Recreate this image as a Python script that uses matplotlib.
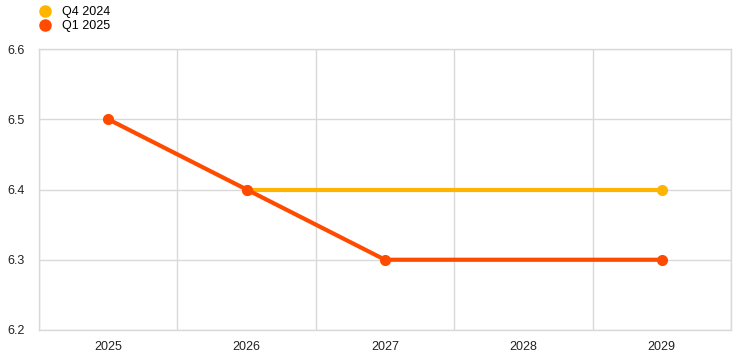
import matplotlib
matplotlib.use("Agg")
import matplotlib.pyplot as plt
import numpy as np

plt.rcParams['font.family'] = ['Liberation Sans', 'DejaVu Sans']

years = [2025, 2026, 2027, 2028, 2029]
q4_2024 = [np.nan, 6.4, 6.4, 6.4, 6.4]
q1_2025 = [6.5, 6.4, 6.3, 6.3, 6.3]
yticks = [6.2, 6.3, 6.4, 6.5, 6.6]

c_q4 = '#FFB400'
c_q1 = '#FF4B00'

fig = plt.figure(figsize=(7.44, 3.57), dpi=100)
ax = fig.add_axes([39/744, 1 - 330/357, (731-39)/744, (330-49)/357])

x = np.arange(len(years))
ax.plot(x, q4_2024, color=c_q4, lw=3, marker='o', ms=7, markevery=[1, 4], label='Q4 2024', zorder=3)
ax.plot(x, q1_2025, color=c_q1, lw=3, marker='o', ms=7, markevery=[0, 1, 2, 4], label='Q1 2025', zorder=4)

ax.set_xlim(-0.5, len(years) - 0.5)
ax.set_ylim(6.2, 6.6)
ax.set_yticks(yticks)
ax.set_yticklabels([f'{v:.1f}' for v in yticks])
ax.set_xticks(x)
ax.set_xticklabels([str(y) for y in years])
ax.set_xticks(np.arange(-0.5, len(years)), minor=True)
ax.grid(True, which='minor', axis='x', color='#d9d9d9', lw=1)
ax.grid(True, which='major', axis='y', color='#d9d9d9', lw=1)
ax.grid(False, which='major', axis='x')
ax.tick_params(axis='both', which='both', length=0, labelsize=9, colors='#222222')
ax.tick_params(axis='x', pad=8)
ax.tick_params(axis='y', pad=10)
for s in ax.spines.values():
    s.set_color('#d9d9d9')
    s.set_linewidth(1)

from matplotlib.lines import Line2D
handles = [Line2D([], [], color=c_q4, marker='o', ls='none', ms=8),
           Line2D([], [], color=c_q1, marker='o', ls='none', ms=8)]
fig.legend(handles, ['Q4 2024', 'Q1 2025'], loc='upper left', bbox_to_anchor=(31/744, 1.0),
           frameon=False, fontsize=9, handletextpad=0.8, labelspacing=0.15, borderaxespad=0.1,
           handlelength=1.2)

fig.savefig('out.png', dpi=100)
